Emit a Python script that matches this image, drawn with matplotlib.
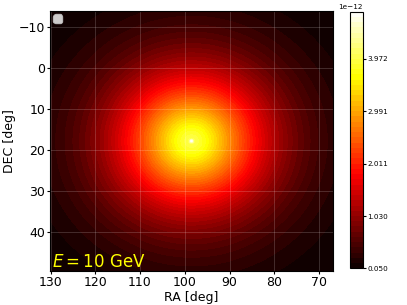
import numpy as np
import matplotlib
matplotlib.use('Agg')
from matplotlib import pyplot as plt

# source position and extent of the map (deg)
src_ra, src_dec = 98.5, 17.8
half_width = 31.6
# radial profile of the emission, flux in units of 1e-12
peak_flux = 4.854
floor_flux = 0.050
broad_frac = 0.82   # share of the extended halo at the centre
r_halo = 16.7       # halo scale (deg)
halo_index = 1.5    # halo shape exponent
r_core = 0.25       # width of the bright core (deg)
n_levels = 50
cbar_ticks = [0.050, 1.030, 2.011, 2.991, 3.972]
ra_ticks = [130, 120, 110, 100, 90, 80, 70]
dec_ticks = [-10, 0, 10, 20, 30, 40]

ra = np.linspace(src_ra - half_width, src_ra + half_width, 401)
dec = np.linspace(src_dec - half_width, src_dec + half_width, 401)
RA, DEC = np.meshgrid(ra, dec)
r = np.hypot(RA - src_ra, DEC - src_dec)
halo = np.exp(-(r / r_halo) ** halo_index)
core = np.exp(-r ** 2 / (2 * r_core ** 2))
flux = peak_flux * (broad_frac * halo + (1 - broad_frac) * core)
flux = np.clip(flux, floor_flux, None)

levels = np.linspace(flux.min(), flux.max(), n_levels)

fig = plt.figure(figsize=(4.07, 3.05), dpi=100)
ax = fig.add_axes([0.123, 0.111, 0.695, 0.853])
cax = fig.add_axes([0.860, 0.120, 0.031, 0.842])

cs = ax.contourf(RA, DEC, flux, levels=levels, cmap='hot')
ax.set_xlim(src_ra + half_width, src_ra - half_width)
ax.set_ylim(src_dec + half_width, src_dec - half_width)
ax.set_xticks(ra_ticks)
ax.set_yticks(dec_ticks)
ax.grid(color='white', alpha=0.2, lw=0.6)
ax.tick_params(labelsize=9, length=2.2, pad=1.2)
ax.set_xlabel('RA [deg]', fontsize=9, labelpad=1.5)
ax.set_ylabel('DEC [deg]', fontsize=9, labelpad=2)

# empty legend box in the corner
ax.legend(handles=[], loc='upper left', fontsize=8, borderaxespad=0.3)

ax.text(0.008, 0.017, r'$E = 10$ GeV', transform=ax.transAxes, color='yellow', fontsize=12)

cbar = fig.colorbar(cs, cax=cax)
cbar.set_ticks(cbar_ticks)
cbar.set_ticklabels(['%.3f' % t for t in cbar_ticks])
cbar.ax.tick_params(labelsize=5.2, length=2, pad=1.5)
cax.text(0.0, 1.008, '1e\u221212', transform=cax.transAxes, fontsize=5.2, ha='center', va='bottom')

fig.savefig('out.png', dpi=100)
